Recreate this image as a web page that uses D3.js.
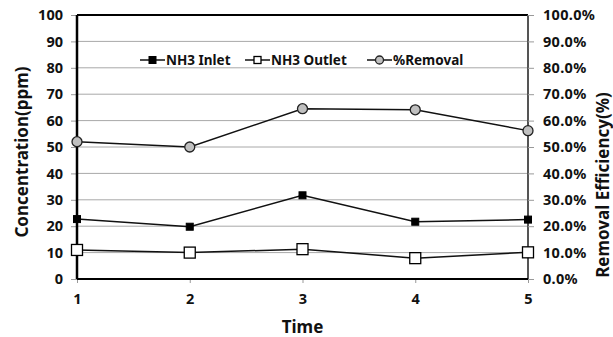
<!DOCTYPE html>
<html>
<head>
<meta charset="utf-8">
<script src="https://cdn.jsdelivr.net/npm/d3@7"></script>
<style>
  body { margin: 0; background: #fff; }
  text { font-family: "Noto Sans", "DejaVu Sans", sans-serif; }
</style>
</head>
<body>
<script>
const times = [1, 2, 3, 4, 5];
const inlet = [22.7, 19.8, 31.7, 21.7, 22.5];
const outlet = [11, 10, 11.3, 7.9, 10.1];
const removal = [0.52, 0.50, 0.645, 0.641, 0.562];
const leftTicks = [0, 10, 20, 30, 40, 50, 60, 70, 80, 90, 100];
const rightTicks = [0, 0.1, 0.2, 0.3, 0.4, 0.5, 0.6, 0.7, 0.8, 0.9, 1.0];

const width = 613, height = 337;
const margin = { top: 15, right: 85, bottom: 58, left: 77 };
const w = width - margin.left - margin.right;
const h = height - margin.top - margin.bottom;

const svg = d3.select('body').append('svg')
  .attr('width', width)
  .attr('height', height);

const g = svg.append('g')
  .attr('transform', 'translate(' + margin.left + ',' + margin.top + ')');

const xScale = d3.scaleLinear().domain([1, 5]).range([0, w]);
const yLeft = d3.scaleLinear().domain([0, 100]).range([h, 0]);
const yRight = d3.scaleLinear().domain([0, 1]).range([h, 0]);

// gridlines
g.append('g')
  .selectAll('line')
  .data(leftTicks.slice(1))
  .enter()
  .append('line')
  .attr('x1', 0)
  .attr('x2', w)
  .attr('y1', (d) => yLeft(d))
  .attr('y2', (d) => yLeft(d))
  .attr('stroke', '#a8a8a8')
  .attr('stroke-width', 1);

// top and right borders
g.append('line').attr('x1', 0).attr('x2', w).attr('y1', 0).attr('y2', 0)
  .attr('stroke', '#000').attr('stroke-width', 2);
g.append('line').attr('x1', w).attr('x2', w).attr('y1', 0).attr('y2', h)
  .attr('stroke', '#555').attr('stroke-width', 2);

const xAxis = d3.axisBottom(xScale).tickValues(times).tickFormat(d3.format('d')).tickSize(4);
const leftAxis = d3.axisLeft(yLeft).tickValues(leftTicks).tickSize(6);
const rightAxis = d3.axisRight(yRight).tickValues(rightTicks).tickFormat(d3.format('.1%')).tickSize(6);

const xg = g.append('g').attr('transform', 'translate(0,' + h + ')').call(xAxis);
const lg = g.append('g').call(leftAxis);
const rg = g.append('g').attr('transform', 'translate(' + w + ',0)').call(rightAxis);

[xg, lg, rg].forEach((a) => {
  a.selectAll('text')
    .attr('font-family', '"Noto Sans", sans-serif')
    .attr('font-size', 14.5)
    .attr('font-weight', 'bold')
    .attr('fill', '#111');
  a.selectAll('.tick line').attr('stroke', '#999');
  a.select('.domain').remove();
});
xg.selectAll('text').attr('dy', '1.25em');
lg.selectAll('text').attr('x', -14);
rg.selectAll('text').attr('x', 15).attr('letter-spacing', 0.3);

// main axis lines
g.append('line').attr('x1', 0).attr('x2', w).attr('y1', h).attr('y2', h)
  .attr('stroke', '#000').attr('stroke-width', 2);
g.append('line').attr('x1', 0).attr('x2', 0).attr('y1', 0).attr('y2', h)
  .attr('stroke', '#000').attr('stroke-width', 2.5);

// axis titles
svg.append('text')
  .text('Concentration(ppm)')
  .attr('transform', 'translate(28,' + (margin.top + h / 2 + 5) + ') rotate(-90)')
  .attr('text-anchor', 'middle')
  .attr('font-size', 17)
  .attr('font-weight', 'bold')
  .attr('fill', '#111');
svg.append('text')
  .text('Removal Efficiency(%)')
  .attr('transform', 'translate(609,' + (margin.top + h / 2 + 38) + ') rotate(-90)')
  .attr('text-anchor', 'middle')
  .attr('font-size', 17)
  .attr('font-weight', 'bold')
  .attr('fill', '#111');
svg.append('text')
  .text('Time')
  .attr('x', margin.left + w / 2)
  .attr('y', 333)
  .attr('text-anchor', 'middle')
  .attr('font-size', 17)
  .attr('font-weight', 'bold')
  .attr('fill', '#111');

const line = d3.line().x((d, i) => xScale(times[i]));

const series = [
  { name: 'NH3 Inlet', values: inlet, y: yLeft, marker: 'square', fill: '#000' },
  { name: 'NH3 Outlet', values: outlet, y: yLeft, marker: 'square', fill: '#fff' },
  { name: '%Removal', values: removal, y: yRight, marker: 'circle', fill: '#c0c0c0' }
];

function drawMarker(sel, s, cx, cy) {
  if (s.marker === 'square') {
    const size = s.fill === '#000' ? 7 : 11;
    sel.append('rect')
      .attr('x', cx - size / 2)
      .attr('y', cy - size / 2)
      .attr('width', size)
      .attr('height', size)
      .attr('fill', s.fill)
      .attr('stroke', '#000')
      .attr('stroke-width', s.fill === '#000' ? 1 : 1.3);
  } else {
    sel.append('circle')
      .attr('cx', cx)
      .attr('cy', cy)
      .attr('r', 5)
      .attr('fill', s.fill)
      .attr('stroke', '#222')
      .attr('stroke-width', 1.3);
  }
}

series.forEach((s) => {
  g.append('path')
    .datum(s.values)
    .attr('d', line.y((d) => s.y(d)))
    .attr('fill', 'none')
    .attr('stroke', '#111')
    .attr('stroke-width', 1.5);
  const mg = g.append('g');
  s.values.forEach((v, i) => drawMarker(mg, s, xScale(times[i]), s.y(v)));
});

// legend
const legendX = [140, 245, 367];
const legendY = 60;
series.forEach((s, i) => {
  const lgd = svg.append('g');
  lgd.append('line')
    .attr('x1', legendX[i])
    .attr('x2', legendX[i] + 25)
    .attr('y1', legendY)
    .attr('y2', legendY)
    .attr('stroke', '#111')
    .attr('stroke-width', 1.5);
  drawMarker(lgd, s, legendX[i] + 12.5, legendY);
  lgd.select('rect').attr('width', 7).attr('height', 7)
    .attr('x', legendX[i] + 9).attr('y', legendY - 3.5);
  lgd.select('circle').attr('r', 4);
  lgd.append('text')
    .text(s.name)
    .attr('x', legendX[i] + 26)
    .attr('y', legendY + 5)
    .attr('font-size', 13.5)
    .attr('font-weight', 'bold')
    .attr('fill', '#111');
});
</script>
</body>
</html>
